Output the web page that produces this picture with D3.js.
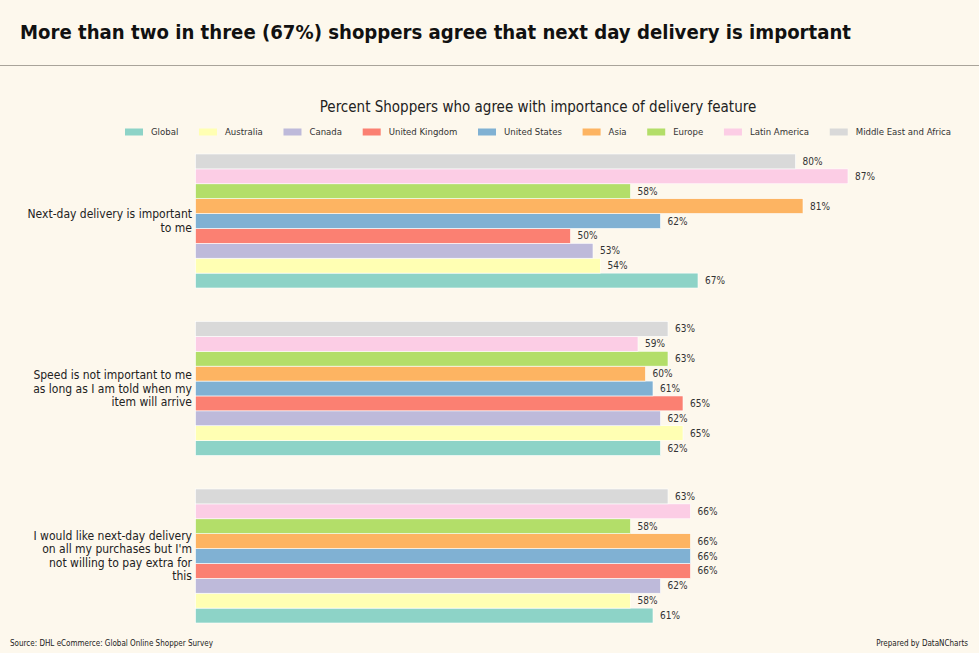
<!DOCTYPE html>
<html>
<head>
<meta charset="utf-8">
<script src="https://cdn.jsdelivr.net/npm/d3@7"></script>
<style>
  html, body { margin: 0; padding: 0; background: #fdf8ed; }
  svg { display: block; font-family: "DejaVu Sans Condensed", "DejaVu Sans", sans-serif; font-stretch: condensed; }
</style>
</head>
<body>
<svg id="chart" width="979" height="653"></svg>
<script>
const categories = [
  "Next-day delivery is important to me",
  "Speed is not important to me as long as I am told when my item will arrive",
  "I would like next-day delivery on all my purchases but I'm not willing to pay extra for this"
];
const series = ["Global", "Australia", "Canada", "United Kingdom", "United States", "Asia", "Europe", "Latin America", "Middle East and Africa"];
const colors = ["#8dd3c7", "#ffffb3", "#bebada", "#fb8072", "#80b1d3", "#fdb462", "#b3de69", "#fccde5", "#d9d9d9"];
const valuesGlobal = [67, 62, 61];
const valuesAustralia = [54, 65, 58];
const valuesCanada = [53, 62, 62];
const valuesUK = [50, 65, 66];
const valuesUS = [62, 61, 66];
const valuesAsia = [81, 60, 66];
const valuesEurope = [58, 63, 58];
const valuesLatAm = [87, 59, 66];
const valuesMEA = [80, 63, 63];
const seriesValues = [valuesGlobal, valuesAustralia, valuesCanada, valuesUK, valuesUS, valuesAsia, valuesEurope, valuesLatAm, valuesMEA];

const title = "More than two in three (67%) shoppers agree that next day delivery is important";
const subtitle = "Percent Shoppers who agree with importance of delivery feature";
const source = "Source: DHL eCommerce: Global Online Shopper Survey";
const credit = "Prepared by DataNCharts";

const svg = d3.select("#chart");
const W = 979, H = 653;

svg.append("rect").attr("width", W).attr("height", H).attr("fill", "#fdf8ed");

// Title
svg.append("text").attr("x", 20).attr("y", 39)
  .attr("font-size", 20.15).attr("font-weight", "bold").attr("fill", "#111")
  .text(title);
svg.append("line").attr("x1", 0).attr("x2", W).attr("y1", 65.5).attr("y2", 65.5)
  .attr("stroke", "#a9a49a").attr("stroke-width", 1.2);

// Subtitle
svg.append("text").attr("x", 538).attr("y", 112).attr("text-anchor", "middle")
  .attr("font-size", 15).attr("fill", "#222").text(subtitle);

// Scales
const x = d3.scaleLinear().domain([0, 100]).range([195.5, 945.5]);
const y = d3.scaleBand().domain(categories).range([154, 623]).paddingInner(0.2).paddingOuter(0);
const yInner = d3.scaleBand().domain(series.slice().reverse()).range([0, y.bandwidth()]);
const color = d3.scaleOrdinal().domain(series).range(colors);

// Bars
const rows = [];
series.forEach((s, si) => {
  categories.forEach((c, ci) => rows.push({ s, c, v: seriesValues[si][ci] }));
});

const g = svg.append("g");
g.selectAll("rect.bar").data(rows).join("rect")
  .attr("class", "bar")
  .attr("x", x(0))
  .attr("y", d => y(d.c) + yInner(d.s))
  .attr("width", d => x(d.v) - x(0))
  .attr("height", yInner.bandwidth())
  .attr("fill", d => color(d.s))
  .attr("stroke", "#ffffff").attr("stroke-width", 0.6);

g.selectAll("text.val").data(rows).join("text")
  .attr("class", "val")
  .attr("x", d => x(d.v) + 7)
  .attr("y", d => y(d.c) + yInner(d.s) + yInner.bandwidth() / 2)
  .attr("dy", "0.35em")
  .attr("font-size", 10).attr("fill", "#333")
  .text(d => d.v + "%");

// Category labels (wrapped like textwrap width=30)
function wrap(str, width) {
  const words = str.split(" ");
  const lines = [];
  let cur = "";
  words.forEach(w => {
    if (!cur) cur = w;
    else if ((cur + " " + w).length <= width) cur += " " + w;
    else { lines.push(cur); cur = w; }
  });
  if (cur) lines.push(cur);
  return lines;
}
const lh = 13.5;
categories.forEach(c => {
  const lines = wrap(c, 30);
  const cy = y(c) + y.bandwidth() / 2;
  const t = svg.append("text").attr("text-anchor", "end").attr("font-size", 12).attr("fill", "#222");
  lines.forEach((ln, i) => {
    t.append("tspan").attr("x", 192)
      .attr("y", cy + (i - (lines.length - 1) / 2) * lh)
      .attr("dy", "0.35em").text(ln);
  });
});

// Legend
const leg = svg.append("g");
let lx = 0;
const items = [];
series.forEach((s, i) => {
  const it = leg.append("g");
  it.append("rect").attr("x", 0).attr("y", -3.5).attr("width", 18).attr("height", 7).attr("fill", color(s));
  const tx = it.append("text").attr("x", 26).attr("y", 0).attr("dy", "0.35em")
    .attr("font-size", 9.5).attr("fill", "#333").text(s);
  const w = 26 + tx.node().getComputedTextLength();
  items.push({ it, w });
});
const legStart = 125, legEnd = 951;
const sumW = d3.sum(items, d => d.w);
const gap = (legEnd - legStart - sumW) / (items.length - 1);
lx = legStart;
items.forEach(d => { d.it.attr("transform", `translate(${lx},132)`); lx += d.w + gap; });

// Footer
svg.append("text").attr("x", 10).attr("y", 645.5).attr("font-size", 8).attr("fill", "#222").text(source);
svg.append("text").attr("x", 968).attr("y", 645.5).attr("text-anchor", "end").attr("font-size", 8).attr("fill", "#222").text(credit);
</script>
</body>
</html>
